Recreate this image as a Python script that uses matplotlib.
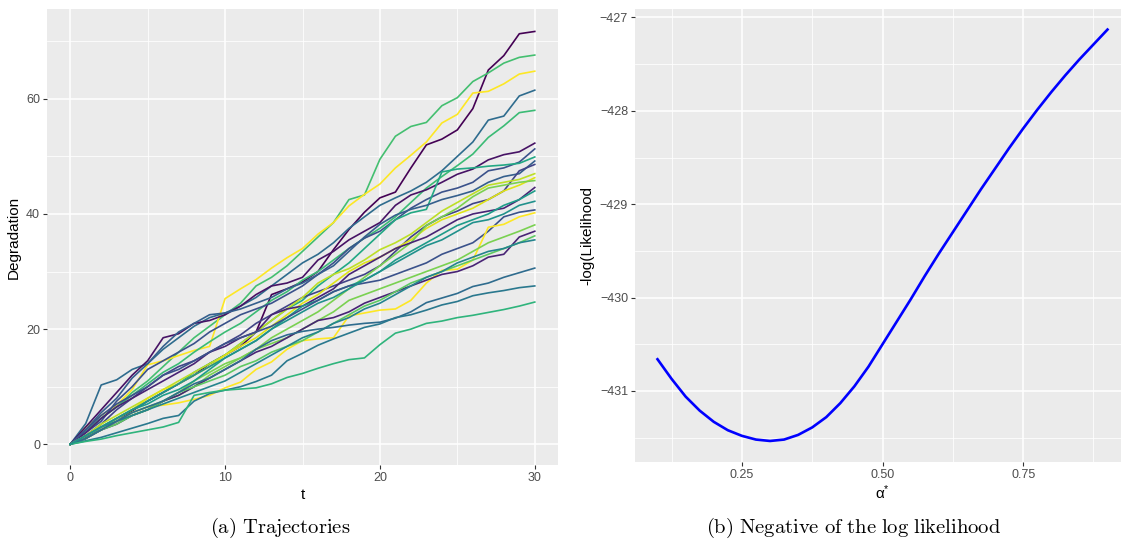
import numpy as np
import matplotlib
matplotlib.use("Agg")
import matplotlib.pyplot as plt
from matplotlib.ticker import MultipleLocator, FixedLocator

plt.rcParams['font.family'] = ['Liberation Sans', 'DejaVu Sans']
plt.rcParams['mathtext.fontset'] = 'cm'

# degradation paths observed at t = 0, 1, ..., 30
t_obs = list(range(31))

paths = [
    [0, 1.2, 2.5, 4.0, 5.8, 7.5, 9.0, 10.5, 12.0, 14.0, 15.5, 17.0, 19.5, 26.0, 27.0, 28.2,
     30.0, 33.8, 37.3, 40.3, 42.8, 43.8, 48.0, 52.0, 53.0, 54.6, 58.3, 65.0, 67.5, 71.3, 71.7],
    [0, 2.5, 4.5, 6.5, 9.0, 11.0, 13.5, 16.0, 18.5, 20.5, 22.5, 24.5, 27.5, 29.0, 31.0, 33.5,
     36.0, 38.5, 42.5, 43.3, 49.5, 53.5, 55.2, 55.9, 58.8, 60.2, 63.0, 64.5, 66.2, 67.2, 67.6],
    [0, 3.0, 5.0, 6.8, 9.5, 13.8, 14.5, 15.4, 16.3, 17.0, 25.3, 27.0, 28.6, 30.6, 32.4, 34.0,
     36.5, 38.5, 41.4, 43.4, 45.2, 48.0, 50.2, 52.5, 55.8, 57.3, 61.0, 61.3, 62.6, 64.3, 64.8],
    [0, 3.6, 10.3, 11.2, 13.0, 14.0, 16.5, 18.5, 20.5, 22.0, 22.8, 24.0, 25.5, 27.5, 29.5, 31.5,
     33.0, 35.0, 37.5, 39.5, 41.5, 42.8, 44.0, 45.5, 47.5, 50.0, 52.5, 56.3, 57.0, 60.5, 61.5],
    [0, 2.2, 4.5, 6.5, 8.5, 10.5, 12.5, 14.0, 16.0, 17.8, 19.5, 21.0, 23.0, 25.0, 26.5, 28.5,
     30.0, 32.0, 34.0, 35.8, 37.5, 39.5, 42.0, 44.5, 46.5, 48.4, 50.4, 53.3, 55.3, 57.6, 58.0],
    [0, 3.0, 6.0, 9.0, 12.0, 14.5, 18.5, 19.2, 21.0, 21.5, 22.5, 24.0, 26.0, 27.5, 28.0, 29.0,
     32.0, 33.5, 35.5, 37.0, 38.5, 41.5, 43.3, 44.2, 45.5, 46.9, 47.8, 49.4, 50.3, 50.8, 52.3],
    [0, 2.0, 4.0, 7.5, 10.0, 13.0, 14.5, 16.0, 17.5, 19.5, 21.0, 22.5, 23.5, 24.5, 26.0, 27.5,
     29.5, 31.5, 34.0, 35.8, 37.0, 39.0, 41.0, 42.5, 43.8, 44.5, 45.5, 47.5, 48.0, 49.0, 51.3],
    [0, 1.5, 3.0, 4.5, 6.0, 7.5, 9.0, 10.5, 12.5, 14.0, 15.5, 17.5, 19.5, 21.5, 23.5, 25.0,
     27.5, 29.5, 31.5, 34.0, 36.5, 39.0, 40.2, 40.8, 47.3, 47.8, 48.0, 48.3, 48.5, 48.8, 49.9],
    [0, 2.5, 5.5, 8.0, 11.5, 14.0, 17.0, 19.5, 21.0, 22.5, 22.8, 23.5, 24.5, 25.5, 27.0, 28.0,
     29.5, 31.0, 33.5, 36.0, 38.2, 39.8, 40.8, 41.5, 42.5, 43.2, 44.0, 45.5, 46.5, 47.0, 49.2],
    [0, 1.5, 3.5, 6.0, 8.0, 10.0, 12.0, 13.5, 14.5, 16.0, 17.5, 19.0, 21.0, 22.5, 24.0, 25.5,
     26.5, 27.5, 28.5, 29.5, 31.0, 33.5, 36.0, 38.0, 39.5, 40.5, 41.8, 42.5, 44.0, 47.5, 48.6],
    [0, 1.5, 3.5, 5.0, 6.5, 8.0, 9.5, 11.0, 12.5, 14.0, 15.5, 17.5, 19.5, 21.5, 23.5, 25.5,
     28.0, 29.5, 30.5, 32.0, 33.8, 35.0, 36.5, 38.5, 40.5, 42.0, 43.5, 45.0, 45.5, 46.0, 47.0],
    [0, 1.5, 3.0, 4.5, 6.0, 8.0, 9.5, 10.5, 12.0, 13.5, 15.5, 17.0, 18.5, 20.5, 22.5, 24.5,
     26.0, 28.0, 30.0, 31.5, 32.5, 34.0, 35.5, 37.5, 39.0, 40.0, 41.0, 42.5, 44.0, 45.0, 46.3],
    [0, 1.0, 2.5, 4.0, 5.0, 6.0, 7.5, 9.0, 11.0, 12.5, 14.0, 15.0, 16.5, 18.5, 20.0, 21.5,
     23.0, 25.0, 27.0, 29.0, 31.0, 33.0, 35.0, 38.0, 39.5, 41.0, 43.0, 44.5, 45.0, 45.5, 45.8],
    [0, 2.0, 4.5, 6.5, 8.0, 9.5, 11.0, 12.5, 14.0, 16.0, 17.0, 18.5, 19.5, 22.5, 23.5, 24.0,
     25.5, 27.0, 29.5, 31.0, 32.5, 34.0, 35.0, 36.0, 37.5, 39.0, 40.0, 40.5, 41.0, 42.5, 44.6],
    [0, 1.0, 3.0, 4.5, 6.0, 7.0, 8.5, 9.5, 11.0, 13.0, 15.0, 16.5, 18.0, 20.0, 22.0, 24.0,
     25.0, 26.5, 27.5, 28.5, 30.0, 32.0, 33.5, 35.0, 36.5, 38.0, 39.0, 40.0, 41.5, 42.5, 44.0],
    [0, 2.5, 5.0, 7.0, 8.5, 10.0, 12.0, 13.0, 14.5, 16.0, 17.5, 18.5, 19.5, 20.5, 22.0, 23.5,
     25.0, 26.5, 27.5, 28.0, 28.5, 29.5, 30.5, 31.5, 33.0, 34.0, 35.0, 37.0, 39.5, 40.3, 40.7],
    [0, 1.5, 3.0, 4.0, 5.5, 6.5, 6.8, 7.2, 7.8, 8.5, 9.8, 10.8, 13.0, 14.3, 16.5, 18.0,
     18.3, 18.5, 22.3, 22.8, 23.3, 23.5, 25.0, 28.0, 30.2, 30.4, 32.0, 37.7, 38.2, 39.5, 40.2],
    [0, 1.5, 3.0, 4.0, 5.5, 6.5, 7.5, 8.5, 10.0, 12.0, 13.5, 15.0, 16.5, 17.5, 18.5, 20.0,
     21.5, 23.0, 25.0, 26.0, 27.0, 28.0, 29.0, 30.0, 31.0, 32.0, 33.5, 35.0, 36.0, 37.0, 38.1],
    [0, 1.0, 2.5, 3.5, 5.0, 6.0, 7.5, 8.5, 10.0, 11.5, 13.0, 14.5, 16.0, 17.0, 18.5, 20.0,
     21.5, 22.0, 23.0, 24.5, 25.5, 26.5, 27.5, 28.5, 29.5, 30.0, 31.0, 32.5, 33.0, 36.0, 37.0],
    [0, 1.0, 2.5, 3.5, 5.0, 6.0, 7.5, 9.0, 10.0, 11.0, 12.0, 13.5, 14.5, 16.0, 17.0, 18.0,
     19.5, 21.0, 22.5, 24.0, 25.0, 26.5, 28.0, 29.0, 30.0, 31.0, 32.0, 33.0, 34.0, 35.0, 36.2],
    [0, 1.5, 3.0, 4.0, 5.0, 6.0, 7.0, 8.0, 9.0, 10.0, 11.0, 12.5, 14.0, 15.5, 17.0, 18.5,
     19.5, 21.0, 22.0, 23.5, 24.5, 26.0, 27.5, 29.0, 30.0, 31.5, 32.5, 33.5, 34.0, 35.0, 35.5],
    [0, 1.0, 2.5, 4.0, 5.5, 6.5, 7.5, 9.0, 10.5, 11.5, 13.0, 14.5, 16.5, 18.0, 19.0, 19.6,
     20.0, 20.3, 20.7, 21.0, 21.2, 21.9, 23.0, 24.6, 25.4, 26.2, 27.4, 28.0, 29.0, 29.8, 30.6],
    [0, 0.6, 1.2, 2.0, 2.8, 3.6, 4.5, 5.0, 7.5, 8.8, 9.4, 10.0, 10.9, 12.0, 14.5, 15.8,
     17.2, 18.3, 19.3, 20.3, 20.9, 22.0, 22.5, 23.3, 24.2, 24.8, 25.8, 26.3, 26.7, 27.2, 27.5],
    [0, 0.5, 0.9, 1.5, 2.0, 2.5, 3.0, 3.8, 8.5, 9.0, 9.4, 9.6, 9.8, 10.5, 11.6, 12.3,
     13.2, 14.0, 14.7, 15.0, 17.3, 19.3, 20.0, 21.0, 21.4, 22.0, 22.4, 22.9, 23.4, 24.0, 24.7],
    [0, 1.5, 3.0, 4.5, 6.0, 7.5, 9.0, 10.5, 12.0, 13.5, 15.0, 16.5, 18.0, 20.0, 21.5, 23.0,
     24.5, 25.5, 27.0, 28.5, 30.0, 31.5, 33.0, 34.5, 35.5, 37.0, 38.5, 39.0, 40.0, 41.5, 42.2],
]

path_colors = [
    "#440154", "#44bf70", "#fde725", "#2f6c8e", "#3bbb75", "#471365", "#3b528b",
    "#22a884", "#355f8d", "#414487", "#bddf26", "#dfe318", "#7ad151", "#482475",
    "#1e9c89", "#3b528b", "#fde725", "#7ad151", "#482475", "#5ec962", "#25848e",
    "#2f6c8e", "#2a788e", "#2fb47c", "#21918c",
]

# negative log likelihood profile over alpha*
alpha_star = [0.100, 0.125, 0.150, 0.175, 0.200, 0.225, 0.250, 0.275, 0.300,
              0.325, 0.350, 0.375, 0.400, 0.425, 0.450, 0.475, 0.500,
              0.525, 0.550, 0.575, 0.600, 0.625, 0.650, 0.675, 0.700,
              0.725, 0.750, 0.775, 0.800, 0.825, 0.850, 0.875, 0.900]
neg_loglik = [-430.66, -430.87, -431.06, -431.21, -431.33, -431.42, -431.48, -431.52, -431.535,
              -431.52, -431.47, -431.39, -431.28, -431.13, -430.95, -430.74, -430.50,
              -430.26, -430.02, -429.77, -429.53, -429.30, -429.07, -428.84, -428.62,
              -428.40, -428.19, -427.99, -427.80, -427.62, -427.45, -427.29, -427.13]

W, H = 1121, 540
fig = plt.figure(figsize=(W / 100, H / 100), dpi=100)

def gg_style(ax):
    ax.set_facecolor("#EBEBEB")
    for s in ax.spines.values():
        s.set_visible(False)
    ax.grid(which="major", color="white", linewidth=1.1)
    ax.grid(which="minor", color="white", linewidth=0.55)
    ax.set_axisbelow(True)
    ax.tick_params(which="major", length=3, width=0.8, color="#333333",
                   labelsize=9, labelcolor="#4D4D4D", pad=2)
    ax.tick_params(which="minor", length=0)

ax1 = fig.add_axes([47 / W, 75 / H, 511 / W, 456 / H])
gg_style(ax1)
for vals, col in zip(paths, path_colors):
    ax1.plot(t_obs, vals, color=col, linewidth=1.2)
ax1.set_xlim(-1.5, 31.5)
ax1.set_ylim(-3.6, 75.6)
ax1.xaxis.set_major_locator(MultipleLocator(10))
ax1.xaxis.set_minor_locator(MultipleLocator(5))
ax1.yaxis.set_major_locator(MultipleLocator(20))
ax1.yaxis.set_minor_locator(MultipleLocator(10))
ax1.set_xlabel("t", fontsize=11, labelpad=3)
ax1.set_ylabel("Degradation", fontsize=11, labelpad=4)

ax2 = fig.add_axes([635 / W, 78.3 / H, 495 / W, 452.7 / H])
gg_style(ax2)
ax2.plot(alpha_star, neg_loglik, color="#0000FF", linewidth=1.9)
ax2.set_xlim(0.06, 0.94)
ax2.set_ylim(-431.757, -426.91)
ax2.xaxis.set_major_locator(FixedLocator([0.25, 0.50, 0.75]))
ax2.xaxis.set_minor_locator(FixedLocator([0.125, 0.375, 0.625, 0.875]))
ax2.set_xticklabels(["0.25", "0.50", "0.75"])
ax2.yaxis.set_major_locator(MultipleLocator(1))
ax2.yaxis.set_minor_locator(MultipleLocator(0.5))
ax2.set_xlabel(r"$\mathregular{α^{*}}$", fontsize=11, labelpad=2)
ax2.set_ylabel("-log(Likelihood", fontsize=11, labelpad=4)

fig.text(280 / W, 1 - 528 / H, r"$\mathrm{(a)\ Trajectories}$",
         ha="center", va="center", fontsize=14.8)
fig.text(853 / W, 1 - 528 / H, r"$\mathrm{(b)\ Negative\ of\ the\ log\ likelihood}$",
         ha="center", va="center", fontsize=14.8)

fig.savefig("out.png", dpi=100)
